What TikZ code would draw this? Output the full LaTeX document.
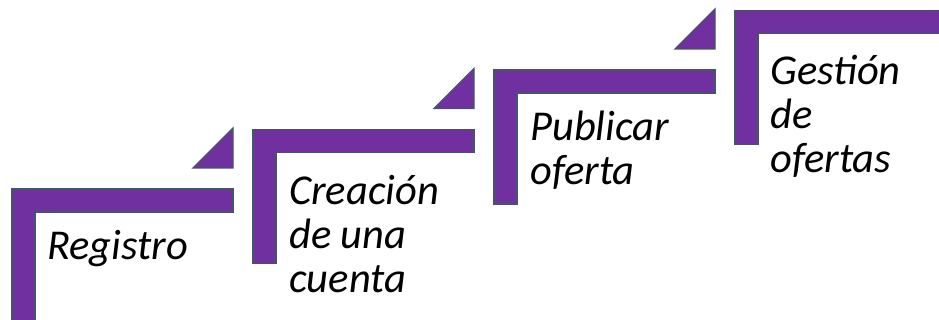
\documentclass[tikz,border=0pt]{standalone}
\usepackage{fontspec}
\setmainfont{Carlito}
\definecolor{stepfill}{HTML}{7030A0}
\definecolor{stepline}{HTML}{44546A}
\tikzset{
  stepshape/.style={fill=stepfill,draw=stepline,line width=1.4pt,line join=miter},
  steptext/.style={anchor=base west,inner sep=0pt,align=left,
    font=\fontsize{42.5}{44}\selectfont\itshape}
}
\newcommand{\stepL}[2]{% #1 = x0, #2 = y0
  \fill[stepshape] (#1,#2) -- ++(221,0) -- ++(0,23) -- ++(-198,0) -- ++(0,111) -- ++(-23,0) -- cycle;
}
\newcommand{\stepT}[2]{%
  \fill[stepshape] (#1+221,#2-21) -- ++(-40,0) -- ++(40,-40) -- cycle;
}
\begin{document}
\begin{tikzpicture}[x=1pt,y=-1pt]
\useasboundingbox (0,0) rectangle (939,320);
\clip (0,0) rectangle (939,320);
\stepL{12}{189}
\stepL{253}{129.5}
\stepL{494}{70}
\stepL{735}{10.5}
\stepT{12}{189}
\stepT{253}{129.5}
\stepT{494}{70}
\node[steptext] (reg) at (47,260) {Registro};
\node[steptext] (cre) at (289,292) {Creación\\de una\\cuenta};
\node[steptext] (pub) at (530,185) {Publicar\\oferta};
\node[steptext] (ges) at (770,173) {Gestión\\de\\ofertas};
\end{tikzpicture}
\end{document}
